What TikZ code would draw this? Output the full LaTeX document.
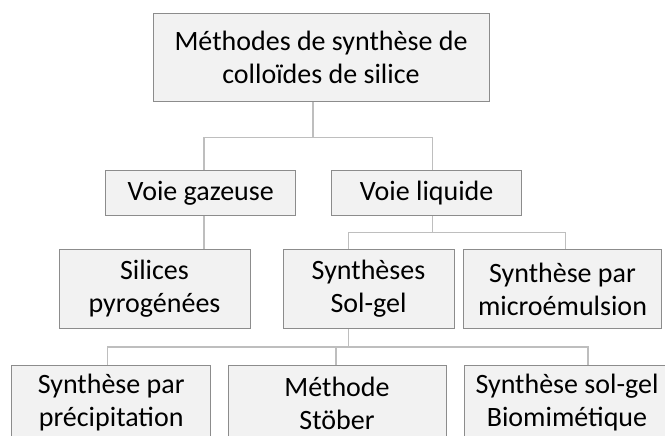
\documentclass[tikz,border=0pt]{standalone}
\usepackage{fontspec}
\setmainfont{Carlito}
\usepackage{tikz}
\usetikzlibrary{positioning,calc}
\usepackage{xcolor}
\definecolor{boxfill}{RGB}{242,242,242}
\definecolor{boxline}{RGB}{140,140,140}
\definecolor{linkgray}{RGB}{190,190,190}

\begin{document}
\begin{tikzpicture}[
    box/.style={rectangle, draw=boxline, fill=boxfill, line width=1pt, align=center,
        inner sep=2pt, font=\fontsize{28}{33}\selectfont},
    link/.style={draw=linkgray, line width=1.2pt}
]
    \useasboundingbox (0pt,0pt) rectangle (665pt,-436pt);
    \clip (0pt,0pt) rectangle (665pt,-436pt);

    % Levels
    \node[box, minimum width=336pt, minimum height=88pt] (methodes) at (321pt,-57.5pt) {Méthodes de synthèse de\\colloïdes de silice};
    \node[box, minimum width=190pt, minimum height=45pt, below=68pt of methodes.south, xshift=-120.3pt] (gaz) {Voie gazeuse};
    \node[box, minimum width=190pt, minimum height=45pt, right=35pt of gaz] (liquide) {Voie liquide};

    \node[box, minimum width=191pt, minimum height=79pt, below=33pt of gaz, xshift=-46.2pt] (pyro) {Silices\\pyrogénées};
    \node[box, minimum width=171pt, minimum height=79pt, right=32pt of pyro] (solgel) {Synthèses\\Sol-gel};
    \node[box, minimum width=198pt, minimum height=79pt, right=8.5pt of solgel] (micro) {Synthèse par\\microémulsion};

    \node[box, minimum width=199pt, minimum height=76pt, below=35.5pt of pyro, xshift=-43.3pt] (precip) {Synthèse par\\précipitation};
    \node[box, minimum width=218pt, minimum height=76pt, right=16.3pt of precip] (stober) {Méthode\\Stöber};
    \node[box, minimum width=206pt, minimum height=76pt, right=17pt of stober] (bio) {Synthèse sol-gel\\Biomimétique};

    % Edges
    \draw[link] ([xshift=-8pt]methodes.south) -- ++(0,-35.5pt) coordinate (busA);
    \draw[link] ([xshift=3.3pt]gaz.north) |- (busA) -| ([xshift=6pt]liquide.north);

    \coordinate (gazout) at ([xshift=3.3pt]gaz.south);
    \draw[link] (gazout) -- (gazout |- pyro.north);

    \draw[link] ([xshift=6pt]liquide.south) -- ++(0,-16.3pt) coordinate (busB);
    \draw[link] ([xshift=-20pt]solgel.north) |- (busB) -| ([xshift=3pt]micro.north);

    \draw[link] ([xshift=-20pt]solgel.south) -- ++(0,-18pt) coordinate (busC);
    \draw[link] ([xshift=-4pt]precip.north) |- (busC) -| ([xshift=21pt]bio.north);
    \coordinate (stoberin) at ([xshift=-1pt]stober.north);
    \draw[link] (stoberin) -- (stoberin |- busC);
\end{tikzpicture}
\end{document}
